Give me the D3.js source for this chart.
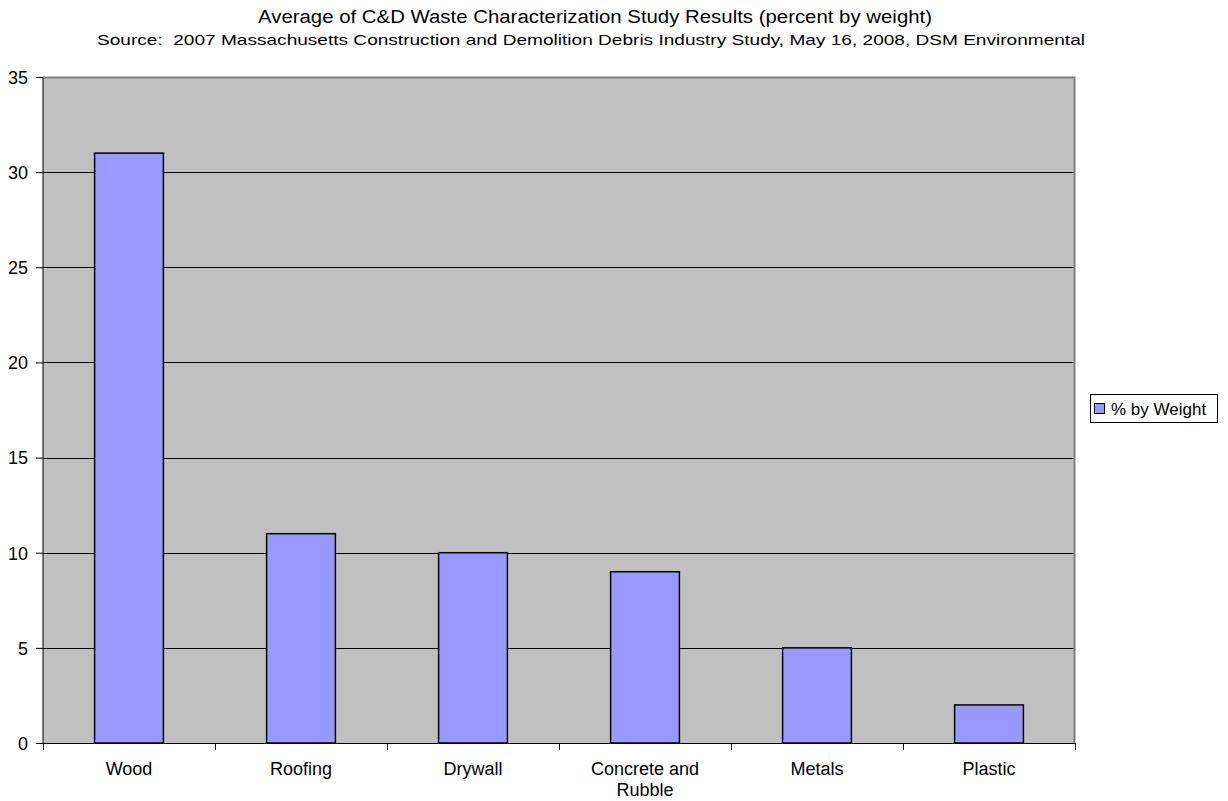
<!DOCTYPE html>
<html>
<head>
<meta charset="utf-8">
<script src="https://cdn.jsdelivr.net/npm/d3@7"></script>
<style>
  body { margin: 0; background: #fff; }
  svg text { font-family: "Liberation Sans", Arial, sans-serif; fill: #000; }
</style>
</head>
<body>
<div id="chart"></div>
<script>
const categories = ["Wood", "Roofing", "Drywall", "Concrete and Rubble", "Metals", "Plastic"];
const values = [31, 11, 10, 9, 5, 2];
const yTicks = [0, 5, 10, 15, 20, 25, 30, 35];
const seriesName = "% by Weight";

const svg = d3.select("#chart").append("svg")
    .attr("width", 1228)
    .attr("height", 801);

const margin = {top: 77, left: 43, right: 153, bottom: 58};
const width = 1228 - margin.left - margin.right;
const height = 801 - margin.top - margin.bottom;

// Titles
svg.append("text")
    .attr("x", 258).attr("y", 23)
    .attr("textLength", 674).attr("lengthAdjust", "spacingAndGlyphs")
    .style("font-size", "18px")
    .text("Average of C&D Waste Characterization Study Results (percent by weight)");
svg.append("text")
    .attr("x", 97).attr("y", 45)
    .attr("textLength", 988).attr("lengthAdjust", "spacingAndGlyphs")
    .style("font-size", "15px")
    .style("white-space", "pre")
    .text("Source:  2007 Massachusetts Construction and Demolition Debris Industry Study, May 16, 2008, DSM Environmental");

const chart = svg.append("g").attr("transform", `translate(${margin.left},${margin.top})`);

const x = d3.scaleBand().domain(categories).range([0, width]).paddingInner(0).paddingOuter(0);
const y = d3.scaleLinear().domain([0, 35]).range([height, 0]);

// plot area background
chart.append("rect")
    .attr("width", width).attr("height", height)
    .attr("fill", "#c0c0c0");

// gridlines
chart.append("g").selectAll("line")
    .data(yTicks.filter(d => d > 0 && d < 35))
    .join("line")
    .attr("x1", 0).attr("x2", width)
    .attr("y1", d => Math.round(y(d)) + 0.5).attr("y2", d => Math.round(y(d)) + 0.5)
    .attr("stroke", "#000").attr("stroke-width", 1);

// plot border (top & right gray)
chart.append("path")
    .attr("d", `M0,0.5H${width - 0.5}V${height}`)
    .attr("fill", "none")
    .attr("stroke", "#808080").attr("stroke-width", 2);

// bars
const barW = x.bandwidth() * 0.4;
chart.append("g").selectAll("rect")
    .data(values)
    .join("rect")
    .attr("x", (d, i) => x(categories[i]) + (x.bandwidth() - barW) / 2)
    .attr("y", d => y(d))
    .attr("width", barW)
    .attr("height", d => height - y(d))
    .attr("fill", "#9999ff")
    .attr("stroke", "#000").attr("stroke-width", 1.5);

// y axis
const yAxis = chart.append("g")
    .call(d3.axisLeft(y).tickValues(yTicks).tickSize(7).tickPadding(8).tickFormat(d3.format("d")));
yAxis.select(".domain").attr("stroke", "#000").attr("d", `M-7,0.5H0V${height}`);
yAxis.selectAll("text")
    .style("font-size", "18px")
    .attr("dy", "0.35em");

// x axis
const xAxis = chart.append("g").attr("transform", `translate(0,${height})`);
xAxis.append("line")
    .attr("x1", 0).attr("x2", width).attr("y1", 0.5).attr("y2", 0.5)
    .attr("stroke", "#000");
xAxis.selectAll("line.tick")
    .data(d3.range(categories.length + 1))
    .join("line")
    .attr("class", "tick")
    .attr("x1", i => Math.round(i * x.step()) + 0.5)
    .attr("x2", i => Math.round(i * x.step()) + 0.5)
    .attr("y1", 0).attr("y2", 7)
    .attr("stroke", "#000");

const labelLines = {"Concrete and Rubble": ["Concrete and", "Rubble"]};
xAxis.selectAll("text.cat")
    .data(categories)
    .join("text")
    .attr("class", "cat")
    .attr("text-anchor", "middle")
    .attr("x", d => x(d) + x.bandwidth() / 2)
    .attr("y", 32)
    .style("font-size", "18px")
    .each(function(d) {
        const lines = labelLines[d] || [d];
        d3.select(this).selectAll("tspan")
            .data(lines)
            .join("tspan")
            .attr("x", x(d) + x.bandwidth() / 2)
            .attr("dy", (l, i) => i === 0 ? 0 : 21)
            .text(l => l);
    });

// legend
const legend = svg.append("g").attr("transform", "translate(1090,394)");
legend.append("rect")
    .attr("x", 0.5).attr("y", 0.5)
    .attr("width", 127).attr("height", 28)
    .attr("fill", "#fff").attr("stroke", "#000");
legend.append("rect")
    .attr("x", 4.5).attr("y", 9.5)
    .attr("width", 10).attr("height", 10)
    .attr("fill", "#9999ff").attr("stroke", "#000");
legend.append("text")
    .attr("x", 21).attr("y", 21)
    .style("font-size", "17px")
    .text(seriesName);
</script>
</body>
</html>
